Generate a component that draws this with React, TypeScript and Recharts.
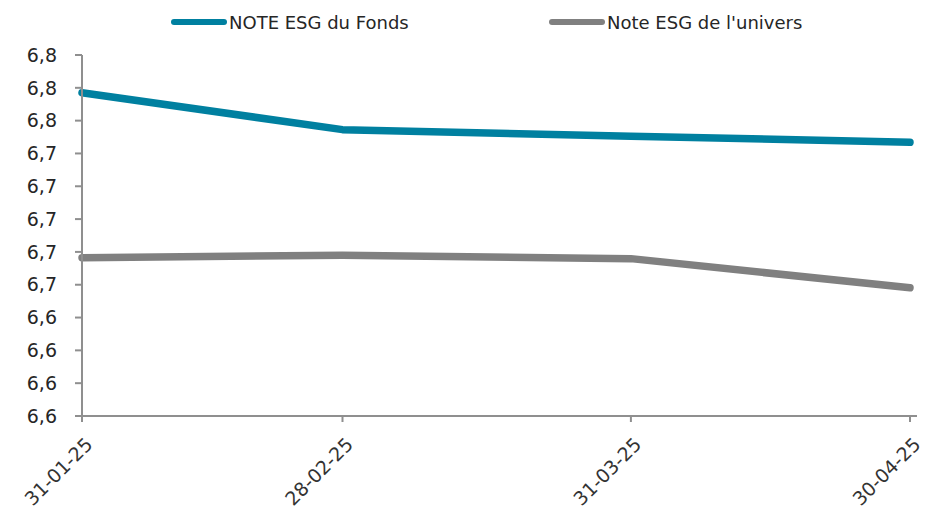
import React from "react";
import { LineChart, Line, XAxis, YAxis } from "recharts";

const dates = ["2025-01-31", "2025-02-28", "2025-03-31", "2025-04-30"];
const dateLabels = ["31-01-25", "28-02-25", "31-03-25", "30-04-25"];
const fundScores = [6.777, 6.7545, 6.7505, 6.7468];
const universeScores = [6.6764, 6.678, 6.6759, 6.6581];
const yTicks = [6.58, 6.6, 6.62, 6.64, 6.66, 6.68, 6.7, 6.72, 6.74, 6.76, 6.78, 6.8];
const seriesNames = ["NOTE ESG du Fonds", "Note ESG de l'univers"];
const seriesColors = ["#0080A0", "#808080"];

const DAY = 86400000;
const t0 = Date.parse(dates[0]);
const xValues = dates.map((d) => Math.round((Date.parse(d) - t0) / DAY));

const data = dates.map((d, i) => ({
  t: xValues[i],
  label: dateLabels[i],
  fund: fundScores[i],
  univers: universeScores[i],
}));

const FONT = "'DejaVu Sans', sans-serif";

const fmtY = (v: number) => v.toFixed(1).replace(".", ",");
const fmtX = (v: number) => {
  const i = xValues.indexOf(v);
  return i >= 0 ? dateLabels[i] : "";
};

const XTick = (props: any) => {
  const { x, y, payload } = props;
  return (
    <g transform={`translate(${x + 7},${y + 19})`}>
      <text
        x={0}
        y={0}
        dy="0.35em"
        textAnchor="end"
        transform="rotate(-45)"
        fill="#333333"
        fontSize={19}
        fontFamily={FONT}
      >
        {fmtX(payload.value)}
      </text>
    </g>
  );
};

const legendX = [171, 549];

export default function App() {
  return (
    <div style={{ position: "absolute", left: 0, top: 0, width: 933, height: 516, background: "#fff" }}>
      <div style={{ position: "absolute", left: 0, top: 0, width: 933, height: 44 }}>
        {seriesNames.map((name, i) => (
          <div
            key={name}
            style={{ position: "absolute", left: legendX[i], top: 10, height: 24, display: "flex", alignItems: "center" }}
          >
            <div style={{ width: 56, height: 6, borderRadius: 3, background: seriesColors[i] }} />
            <span style={{ marginLeft: 2, fontFamily: FONT, fontSize: 18, color: "#262626", whiteSpace: "nowrap" }}>
              {name}
            </span>
          </div>
        ))}
      </div>
      <LineChart width={933} height={516} data={data} margin={{ top: 55, right: 16, bottom: 0, left: 0 }}>
        <XAxis
          dataKey="t"
          type="number"
          domain={["dataMin", "dataMax"]}
          ticks={xValues}
          interval={0}
          height={100}
          padding={{ left: 0, right: 7 }}
          stroke="#8f8f8f"
          strokeWidth={2}
          tickSize={6}
          tickMargin={0}
          tick={<XTick />}
        />
        <YAxis
          type="number"
          domain={[6.58, 6.8]}
          ticks={yTicks}
          interval={0}
          width={82}
          allowDataOverflow
          stroke="#8f8f8f"
          strokeWidth={2}
          tickSize={7}
          tickMargin={18}
          tickFormatter={fmtY}
          tick={{ fill: "#262626", fontSize: 19, fontFamily: FONT }}
        />
        <Line
          dataKey="fund"
          name={seriesNames[0]}
          stroke={seriesColors[0]}
          strokeWidth={7.5}
          strokeLinecap="round"
          strokeLinejoin="round"
          dot={false}
          activeDot={false}
          isAnimationActive={false}
        />
        <Line
          dataKey="univers"
          name={seriesNames[1]}
          stroke={seriesColors[1]}
          strokeWidth={7.5}
          strokeLinecap="round"
          strokeLinejoin="round"
          dot={false}
          activeDot={false}
          isAnimationActive={false}
        />
      </LineChart>
    </div>
  );
}
